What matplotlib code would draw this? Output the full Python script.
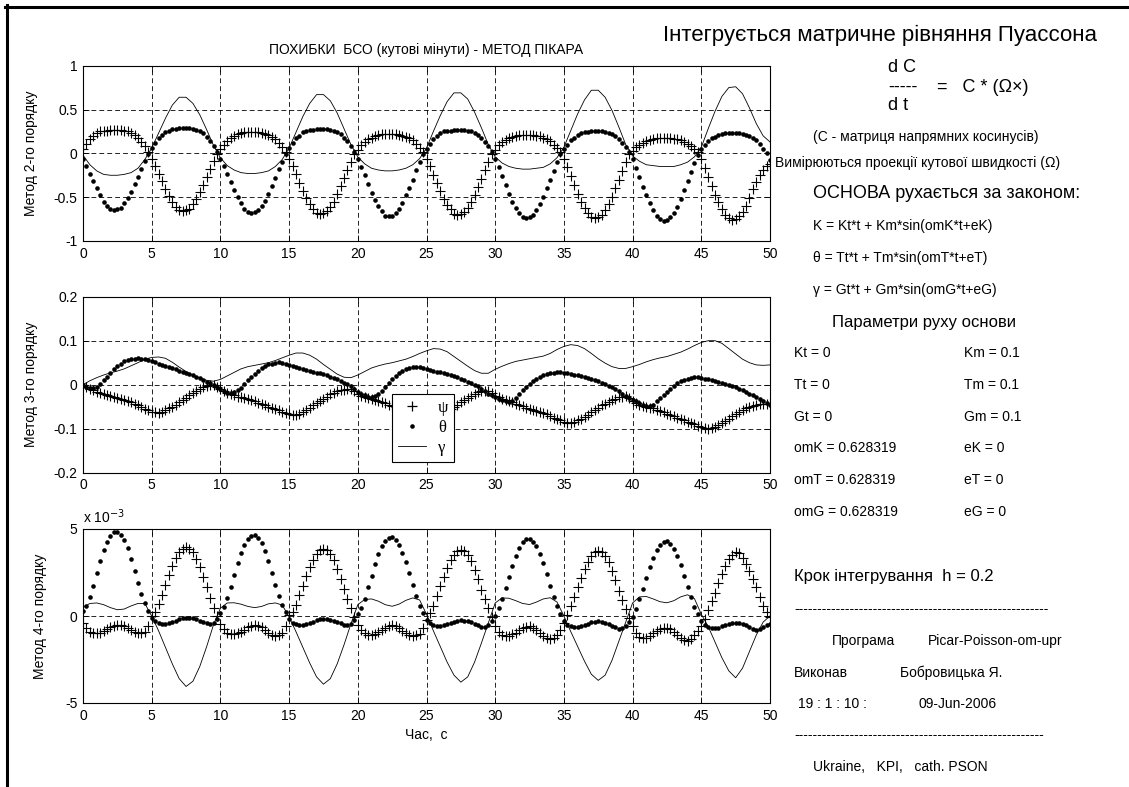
import numpy as np
import matplotlib.pyplot as plt
from matplotlib.lines import Line2D
from matplotlib.ticker import FuncFormatter

plt.rcParams['font.family'] = ['Liberation Sans', 'DejaVu Sans']
plt.rcParams['font.size'] = 10
plt.rcParams['lines.scale_dashes'] = False

# sample times, s: marker series every 0.25 s, gamma lines every 0.5 s
t_mark = np.linspace(0, 50, 201)
t_line = np.linspace(0, 50, 101)

# --- 2nd order method, angular minutes ---
psi2 = [0.05, 0.11, 0.16, 0.20, 0.23, 0.25, 0.26, 0.26, 0.27, 0.27, 0.27, 0.27, 0.26, 0.25, 0.23, 0.21, 0.18, 0.13, 0.08, 0.01,
        -0.06, -0.15, -0.23, -0.32, -0.41, -0.49, -0.55, -0.61, -0.65, -0.66, -0.65, -0.63, -0.58, -0.52, -0.44, -0.36, -0.27, -0.18, -0.09, -0.01,
        0.05, 0.10, 0.14, 0.18, 0.20, 0.22, 0.23, 0.24, 0.24, 0.24, 0.24, 0.24, 0.23, 0.22, 0.21, 0.19, 0.16, 0.12, 0.07, 0.01,
        -0.06, -0.15, -0.24, -0.34, -0.43, -0.51, -0.58, -0.63, -0.68, -0.69, -0.68, -0.66, -0.61, -0.55, -0.46, -0.37, -0.28, -0.19, -0.10, -0.01,
        0.04, 0.09, 0.13, 0.16, 0.18, 0.20, 0.21, 0.22, 0.22, 0.22, 0.22, 0.22, 0.21, 0.20, 0.19, 0.17, 0.15, 0.11, 0.06, 0.01,
        -0.06, -0.15, -0.25, -0.34, -0.43, -0.52, -0.59, -0.64, -0.69, -0.70, -0.69, -0.67, -0.62, -0.55, -0.47, -0.38, -0.29, -0.19, -0.10, -0.01,
        0.04, 0.09, 0.13, 0.15, 0.18, 0.19, 0.20, 0.21, 0.21, 0.21, 0.21, 0.21, 0.20, 0.20, 0.18, 0.16, 0.14, 0.10, 0.06, 0.01,
        -0.07, -0.16, -0.26, -0.36, -0.46, -0.55, -0.62, -0.68, -0.73, -0.74, -0.73, -0.70, -0.65, -0.58, -0.50, -0.40, -0.30, -0.20, -0.10, -0.01,
        0.03, 0.07, 0.10, 0.12, 0.14, 0.15, 0.16, 0.17, 0.17, 0.17, 0.17, 0.17, 0.16, 0.16, 0.15, 0.13, 0.11, 0.08, 0.05, 0.01,
        -0.07, -0.17, -0.27, -0.37, -0.47, -0.56, -0.64, -0.70, -0.74, -0.76, -0.75, -0.72, -0.67, -0.60, -0.51, -0.41, -0.33, -0.25, -0.19, -0.15,
        -0.12]
theta2 = [-0.06, -0.14, -0.23, -0.32, -0.40, -0.48, -0.55, -0.60, -0.64, -0.65, -0.64, -0.62, -0.57, -0.51, -0.44, -0.35, -0.27, -0.18, -0.09, -0.01,
          0.06, 0.12, 0.17, 0.21, 0.24, 0.26, 0.28, 0.28, 0.29, 0.29, 0.29, 0.29, 0.28, 0.27, 0.25, 0.23, 0.19, 0.14, 0.08, 0.01,
          -0.06, -0.15, -0.24, -0.33, -0.42, -0.50, -0.57, -0.63, -0.67, -0.68, -0.67, -0.65, -0.60, -0.54, -0.46, -0.37, -0.28, -0.18, -0.10, -0.01,
          0.06, 0.12, 0.17, 0.20, 0.24, 0.25, 0.27, 0.27, 0.28, 0.28, 0.28, 0.28, 0.27, 0.26, 0.24, 0.22, 0.18, 0.14, 0.08, 0.01,
          -0.06, -0.16, -0.25, -0.35, -0.45, -0.53, -0.60, -0.66, -0.71, -0.72, -0.71, -0.68, -0.63, -0.57, -0.48, -0.39, -0.30, -0.19, -0.10, -0.01,
          0.05, 0.11, 0.16, 0.20, 0.23, 0.25, 0.26, 0.26, 0.27, 0.27, 0.27, 0.27, 0.26, 0.25, 0.23, 0.21, 0.18, 0.13, 0.08, 0.01,
          -0.07, -0.16, -0.26, -0.36, -0.46, -0.55, -0.62, -0.68, -0.73, -0.74, -0.73, -0.70, -0.65, -0.58, -0.50, -0.40, -0.30, -0.20, -0.10, -0.01,
          0.05, 0.10, 0.15, 0.18, 0.21, 0.23, 0.24, 0.24, 0.25, 0.25, 0.25, 0.25, 0.24, 0.23, 0.22, 0.20, 0.16, 0.12, 0.07, 0.01,
          -0.07, -0.17, -0.27, -0.38, -0.48, -0.57, -0.65, -0.71, -0.75, -0.77, -0.76, -0.73, -0.68, -0.61, -0.52, -0.42, -0.32, -0.21, -0.11, -0.02,
          0.05, 0.10, 0.14, 0.17, 0.19, 0.21, 0.22, 0.23, 0.23, 0.23, 0.23, 0.23, 0.22, 0.21, 0.20, 0.18, 0.15, 0.11, 0.05, 0.00,
          -0.08]
gamma2 = [-0.02, -0.13, -0.20, -0.24, -0.25, -0.25, -0.24, -0.22, -0.17, -0.07,
          0.06, 0.23, 0.40, 0.55, 0.64, 0.64, 0.57, 0.44, 0.27, 0.09,
          -0.05, -0.14, -0.19, -0.22, -0.23, -0.23, -0.22, -0.20, -0.15, -0.07,
          0.06, 0.24, 0.42, 0.57, 0.67, 0.67, 0.60, 0.46, 0.28, 0.10,
          -0.04, -0.12, -0.17, -0.19, -0.20, -0.20, -0.19, -0.17, -0.13, -0.06,
          0.06, 0.25, 0.43, 0.59, 0.69, 0.69, 0.62, 0.47, 0.29, 0.10,
          -0.04, -0.11, -0.15, -0.17, -0.18, -0.18, -0.17, -0.16, -0.12, -0.05,
          0.07, 0.26, 0.45, 0.61, 0.72, 0.72, 0.64, 0.49, 0.30, 0.10,
          -0.03, -0.09, -0.13, -0.14, -0.15, -0.15, -0.15, -0.13, -0.10, -0.04,
          0.07, 0.28, 0.48, 0.65, 0.75, 0.76, 0.68, 0.52, 0.34, 0.20,
          0.13]

# --- 3rd order method ---
psi3 = [0.0, -0.006, -0.01, -0.013, -0.016, -0.019, -0.021, -0.024, -0.026, -0.028, -0.03, -0.033, -0.035, -0.037, -0.04, -0.043, -0.046, -0.05, -0.055, -0.058,
        -0.061, -0.063, -0.064, -0.062, -0.058, -0.054, -0.05, -0.045, -0.04, -0.035, -0.03, -0.024, -0.019, -0.014, -0.009, -0.005, -0.002, 0.0, 0.0, -0.005,
        -0.01, -0.015, -0.019, -0.022, -0.024, -0.027, -0.029, -0.031, -0.033, -0.035, -0.038, -0.041, -0.044, -0.047, -0.05, -0.053, -0.056, -0.058, -0.061, -0.064,
        -0.066, -0.068, -0.069, -0.066, -0.062, -0.057, -0.052, -0.047, -0.042, -0.037, -0.032, -0.027, -0.022, -0.018, -0.014, -0.012, -0.011, -0.01, -0.01, -0.015,
        -0.021, -0.025, -0.028, -0.03, -0.032, -0.034, -0.036, -0.039, -0.042, -0.045, -0.048, -0.051, -0.054, -0.057, -0.059, -0.062, -0.064, -0.067, -0.07, -0.073,
        -0.075, -0.077, -0.079, -0.076, -0.072, -0.067, -0.061, -0.055, -0.05, -0.045, -0.04, -0.035, -0.03, -0.025, -0.021, -0.017, -0.015, -0.014, -0.014, -0.019,
        -0.025, -0.029, -0.033, -0.035, -0.037, -0.04, -0.043, -0.046, -0.049, -0.052, -0.055, -0.058, -0.06, -0.062, -0.064, -0.067, -0.071, -0.075, -0.078, -0.081,
        -0.084, -0.086, -0.088, -0.085, -0.081, -0.077, -0.073, -0.068, -0.063, -0.057, -0.052, -0.047, -0.043, -0.039, -0.035, -0.032, -0.029, -0.027, -0.026, -0.031,
        -0.036, -0.041, -0.045, -0.048, -0.05, -0.052, -0.054, -0.057, -0.06, -0.063, -0.066, -0.069, -0.072, -0.075, -0.078, -0.081, -0.084, -0.087, -0.09, -0.093,
        -0.096, -0.098, -0.1, -0.098, -0.095, -0.091, -0.086, -0.082, -0.077, -0.072, -0.067, -0.062, -0.058, -0.054, -0.051, -0.048, -0.046, -0.044, -0.043, -0.043,
        -0.043]
theta3 = [0.0, -0.005, -0.007, -0.008, -0.006, 0.001, 0.01, 0.018, 0.027, 0.035, 0.042, 0.048, 0.053, 0.056, 0.058, 0.059, 0.06, 0.059, 0.058, 0.056,
          0.054, 0.051, 0.048, 0.045, 0.043, 0.04, 0.038, 0.035, 0.032, 0.03, 0.027, 0.024, 0.021, 0.018, 0.015, 0.011, 0.007, 0.004, 0.0, -0.005,
          -0.01, -0.014, -0.018, -0.019, -0.017, -0.013, -0.008, 0.001, 0.01, 0.018, 0.025, 0.032, 0.038, 0.042, 0.046, 0.048, 0.05, 0.051, 0.05, 0.048,
          0.045, 0.042, 0.04, 0.037, 0.035, 0.033, 0.031, 0.029, 0.027, 0.026, 0.024, 0.021, 0.018, 0.015, 0.012, 0.009, 0.005, 0.001, -0.003, -0.009,
          -0.016, -0.02, -0.024, -0.027, -0.028, -0.026, -0.022, -0.014, -0.005, 0.004, 0.013, 0.02, 0.026, 0.031, 0.035, 0.038, 0.04, 0.041, 0.04, 0.038,
          0.036, 0.034, 0.032, 0.03, 0.028, 0.026, 0.024, 0.022, 0.019, 0.017, 0.014, 0.011, 0.007, 0.004, 0.0, -0.004, -0.009, -0.014, -0.02, -0.024,
          -0.028, -0.032, -0.035, -0.038, -0.04, -0.037, -0.03, -0.021, -0.012, -0.005, 0.002, 0.008, 0.013, 0.017, 0.021, 0.024, 0.026, 0.027, 0.028, 0.028,
          0.027, 0.026, 0.024, 0.023, 0.021, 0.019, 0.017, 0.015, 0.013, 0.011, 0.008, 0.005, 0.002, -0.002, -0.006, -0.01, -0.015, -0.02, -0.025, -0.03,
          -0.034, -0.038, -0.042, -0.045, -0.048, -0.048, -0.045, -0.038, -0.03, -0.023, -0.016, -0.009, -0.003, 0.003, 0.008, 0.011, 0.013, 0.015, 0.017, 0.017,
          0.016, 0.014, 0.012, 0.01, 0.008, 0.006, 0.004, 0.002, -0.001, -0.003, -0.006, -0.009, -0.012, -0.016, -0.02, -0.024, -0.028, -0.033, -0.038, -0.042,
          -0.045]
gamma3 = [0.0, 0.009, 0.016, 0.022, 0.027, 0.031, 0.036, 0.043, 0.05, 0.058,
          0.062, 0.063, 0.06, 0.051, 0.04, 0.03, 0.021, 0.015, 0.01, 0.008,
          0.012, 0.02, 0.028, 0.036, 0.041, 0.044, 0.047, 0.05, 0.055, 0.061,
          0.067, 0.072, 0.072, 0.067, 0.058, 0.046, 0.035, 0.024, 0.017, 0.016,
          0.022, 0.03, 0.038, 0.043, 0.047, 0.05, 0.054, 0.058, 0.064, 0.071,
          0.077, 0.082, 0.081, 0.075, 0.064, 0.053, 0.042, 0.032, 0.026, 0.026,
          0.035, 0.042, 0.048, 0.053, 0.056, 0.059, 0.062, 0.065, 0.071, 0.08,
          0.087, 0.091, 0.089, 0.082, 0.071, 0.059, 0.049, 0.041, 0.037, 0.037,
          0.041, 0.046, 0.052, 0.057, 0.061, 0.064, 0.069, 0.074, 0.081, 0.089,
          0.096, 0.1, 0.1, 0.094, 0.082, 0.07, 0.058, 0.05, 0.045, 0.044,
          0.045]

# --- 4th order method, units of 1e-3 ---
psi4 = [-0.4, -0.7, -0.9, -0.98, -1.0, -0.95, -0.85, -0.75, -0.65, -0.57, -0.52, -0.53, -0.58, -0.68, -0.8, -0.92, -1.0, -1.0, -0.9, -0.55,
        0.0, 0.24, 0.68, 1.21, 1.78, 2.35, 2.88, 3.32, 3.66, 3.87, 3.95, 3.87, 3.66, 3.3, 2.8, 2.25, 1.65, 1.05, 0.45, 0.0,
        -0.45, -0.75, -0.95, -1.03, -1.05, -1.0, -0.9, -0.78, -0.65, -0.56, -0.52, -0.56, -0.65, -0.8, -0.95, -1.08, -1.15, -1.1, -0.95, -0.55,
        0.05, 0.25, 0.66, 1.19, 1.74, 2.3, 2.8, 3.23, 3.57, 3.77, 3.85, 3.77, 3.57, 3.2, 2.7, 2.15, 1.55, 1.0, 0.45, -0.05,
        -0.5, -0.82, -1.0, -1.08, -1.1, -1.03, -0.92, -0.8, -0.68, -0.58, -0.53, -0.59, -0.7, -0.85, -1.0, -1.1, -1.15, -1.12, -1.02, -0.7,
        -0.25, 0.15, 0.6, 1.15, 1.7, 2.27, 2.77, 3.19, 3.52, 3.72, 3.8, 3.72, 3.52, 3.15, 2.65, 2.1, 1.5, 0.95, 0.45, -0.05,
        -0.55, -0.9, -1.1, -1.16, -1.15, -1.06, -0.95, -0.82, -0.7, -0.62, -0.6, -0.68, -0.8, -0.97, -1.15, -1.27, -1.32, -1.25, -1.1, -0.8,
        -0.4, 0.05, 0.55, 1.1, 1.65, 2.2, 2.7, 3.12, 3.45, 3.65, 3.72, 3.65, 3.45, 3.08, 2.6, 2.05, 1.45, 0.9, 0.4, -0.1,
        -0.6, -1.0, -1.22, -1.27, -1.25, -1.13, -1.0, -0.87, -0.75, -0.69, -0.67, -0.76, -0.9, -1.07, -1.25, -1.37, -1.42, -1.32, -1.12, -0.88,
        -0.6, -0.15, 0.35, 0.85, 1.35, 1.9, 2.4, 2.88, 3.25, 3.52, 3.68, 3.6, 3.35, 3.0, 2.6, 2.15, 1.66, 1.12, 0.6, 0.25,
        -0.05]
theta4 = [0.3, 0.6, 1.1, 1.75, 2.47, 3.15, 3.78, 4.27, 4.61, 4.8, 4.85, 4.66, 4.35, 3.88, 3.28, 2.6, 1.9, 1.25, 0.75, 0.3,
          -0.1, -0.3, -0.38, -0.44, -0.46, -0.43, -0.36, -0.28, -0.2, -0.13, -0.1, -0.11, -0.14, -0.2, -0.27, -0.35, -0.42, -0.44, -0.38, -0.2,
          0.15, 0.5, 1.02, 1.67, 2.37, 3.02, 3.63, 4.09, 4.42, 4.6, 4.65, 4.46, 4.17, 3.72, 3.15, 2.5, 1.81, 1.16, 0.65, 0.25,
          -0.2, -0.38, -0.45, -0.49, -0.5, -0.46, -0.4, -0.32, -0.25, -0.2, -0.17, -0.18, -0.21, -0.27, -0.35, -0.43, -0.5, -0.51, -0.45, -0.25,
          0.1, 0.46, 1.0, 1.64, 2.32, 2.96, 3.55, 4.0, 4.32, 4.5, 4.55, 4.37, 4.1, 3.64, 3.09, 2.46, 1.77, 1.14, 0.6, 0.2,
          -0.25, -0.42, -0.5, -0.55, -0.57, -0.53, -0.47, -0.39, -0.32, -0.27, -0.25, -0.26, -0.29, -0.35, -0.44, -0.54, -0.62, -0.62, -0.52, -0.3,
          0.0, 0.45, 0.98, 1.6, 2.27, 2.89, 3.47, 3.92, 4.23, 4.41, 4.45, 4.27, 4.01, 3.56, 3.03, 2.4, 1.74, 1.11, 0.55, 0.1,
          -0.3, -0.5, -0.58, -0.61, -0.62, -0.58, -0.52, -0.44, -0.36, -0.32, -0.3, -0.33, -0.38, -0.46, -0.56, -0.66, -0.72, -0.7, -0.6, -0.35,
          -0.05, 0.43, 0.95, 1.55, 2.19, 2.8, 3.35, 3.78, 4.09, 4.26, 4.3, 4.13, 3.87, 3.44, 2.92, 2.32, 1.68, 1.08, 0.5, 0.1,
          -0.3, -0.52, -0.63, -0.68, -0.7, -0.67, -0.6, -0.52, -0.45, -0.4, -0.38, -0.4, -0.45, -0.53, -0.62, -0.72, -0.8, -0.77, -0.65, -0.53,
          -0.45]
gamma4 = [0.5, 0.72, 0.75, 0.65, 0.48, 0.36, 0.4, 0.58, 0.72, 0.72,
          0.0, -0.85, -1.8, -2.75, -3.6, -4.05, -3.75, -2.9, -1.76, -0.5,
          0.45, 0.75, 0.76, 0.68, 0.55, 0.48, 0.55, 0.7, 0.75, 0.63,
          -0.05, -0.9, -1.8, -2.7, -3.5, -3.92, -3.6, -2.75, -1.65, -0.45,
          0.65, 0.95, 0.98, 0.85, 0.65, 0.56, 0.68, 0.9, 1.04, 0.92,
          0.1, -0.85, -1.75, -2.65, -3.4, -3.8, -3.5, -2.65, -1.55, -0.4,
          0.75, 1.04, 1.02, 0.88, 0.72, 0.66, 0.8, 0.98, 1.05, 0.8,
          0.0, -0.9, -1.75, -2.6, -3.35, -3.7, -3.4, -2.55, -1.45, -0.35,
          0.75, 1.1, 1.12, 0.98, 0.82, 0.76, 0.88, 1.1, 1.22, 1.0,
          0.1, -0.6, -1.5, -2.4, -3.15, -3.55, -3.0, -2.05, -1.1, -0.35,
          0.0]

xticks = list(range(0, 51, 5))
yticks2 = [-1, -0.5, 0, 0.5, 1]
yticks3 = [-0.2, -0.1, 0, 0.1, 0.2]
yticks4 = [-5e-3, 0, 5e-3]
ylabels = ['Метод 2-го порядку', 'Метод 3-го порядку', 'Метод 4-го порядку']

W, H = 1129.0, 787.0
fig = plt.figure(figsize=(W / 100, H / 100), dpi=100)


def add_panel(top, bottom):
    return fig.add_axes([83 / W, 1 - bottom / H, 687 / W, (bottom - top) / H])


def draw(ax, psi, theta, gamma, yticks, ylab, labx):
    ax.plot(t_mark, psi, ls='none', marker='+', ms=6.5, mew=0.8, color='k')
    ax.plot(t_mark, theta, ls='none', marker='o', ms=3.3, mew=0, color='k')
    ax.plot(t_line, gamma, ls='-', lw=0.6, color='k')
    ax.set_xlim(0, 50)
    ax.set_ylim(yticks[0], yticks[-1])
    ax.set_xticks(xticks)
    ax.set_yticks(yticks)
    ax.grid(True, ls=(0, (3.5, 2.2)), color='k', lw=0.6)
    ax.set_axisbelow(True)
    ax.tick_params(direction='in', length=4, width=0.6, top=True, right=True,
                   labelsize=10, pad=4)
    for s in ax.spines.values():
        s.set_linewidth(0.8)
    ax.set_ylabel(ylab, fontsize=10)
    ax.yaxis.set_label_coords(labx, 0.5)


fmt = FuncFormatter(lambda v, p: f'{round(v, 6):g}')

ax1 = add_panel(65.7, 241)
draw(ax1, psi2, theta2, gamma2, yticks2, ylabels[0], -0.066)
ax1.xaxis.set_major_formatter(fmt)
ax1.yaxis.set_major_formatter(fmt)
ax1.text(0.5, 1.09, 'ПОХИБКИ  БСО (кутові мінути) - МЕТОД ПІКАРА',
         transform=ax1.transAxes, ha='center', va='center', fontsize=10)

ax2 = add_panel(296.7, 472.7)
draw(ax2, psi3, theta3, gamma3, yticks3, ylabels[1], -0.066)
ax2.xaxis.set_major_formatter(fmt)
ax2.yaxis.set_major_formatter(fmt)
handles = [Line2D([], [], ls='none', marker='+', ms=7, mew=0.9, color='k'),
           Line2D([], [], ls='none', marker='o', ms=3.3, mew=0, color='k'),
           Line2D([], [], lw=0.6, color='k')]
leg = ax2.legend(handles, ['ψ', 'θ', 'γ'], loc='lower left',
                 bbox_to_anchor=(0.45, 0.061), borderaxespad=0,
                 prop={'family': 'Liberation Serif', 'size': 12},
                 fancybox=False, edgecolor='k', framealpha=1,
                 borderpad=0.35, labelspacing=0.25, handlelength=1.7,
                 handletextpad=0.7)
leg.get_frame().set_linewidth(0.8)

ax3 = add_panel(529, 703)
draw(ax3, np.array(psi4) * 1e-3, np.array(theta4) * 1e-3,
     np.array(gamma4) * 1e-3, yticks4, ylabels[2], -0.052)
ax3.xaxis.set_major_formatter(fmt)
ax3.yaxis.set_major_formatter(FuncFormatter(lambda v, p: f'{round(v * 1e3, 6):g}'))
ax3.text(0.0, 1.07, r'x 10$^{-3}$', transform=ax3.transAxes,
         ha='left', va='center', fontsize=10)
ax3.set_xlabel('Час,  с', fontsize=10, labelpad=4)


def ftext(x, y, s, size=10, **kw):
    fig.text(x / W, 1 - y / H, s, fontsize=size, ha='left', va='center', **kw)


ftext(663, 35, 'Інтегрується матричне рівняння Пуассона', 16)
ftext(888, 67, 'd C', 13)
ftext(888, 87, '-----', 13)
ftext(888, 106, 'd t', 13)
ftext(937, 87, '=   C * (Ω×)', 13)
ftext(813, 137, '(С - матриця напрямних косинусів)')
ftext(775, 163, 'Вимірюються проекції кутової швидкості (Ω)')
ftext(813, 194, 'ОСНОВА рухається за законом:', 13)
ftext(813, 226, 'K = Kt*t + Km*sin(omK*t+eK)')
ftext(813, 258, 'θ = Tt*t + Tm*sin(omT*t+eT)')
ftext(813, 290, 'γ = Gt*t + Gm*sin(omG*t+eG)')
ftext(832, 322, 'Параметри руху основи', 12)

params_left = ['Kt = 0', 'Tt = 0', 'Gt = 0',
               'omK = 0.628319', 'omT = 0.628319', 'omG = 0.628319']
params_right = ['Km = 0.1', 'Tm = 0.1', 'Gm = 0.1', 'eK = 0', 'eT = 0', 'eG = 0']
for i, (a, b) in enumerate(zip(params_left, params_right)):
    y = 353 + i * 31.8
    ftext(794, y, a)
    ftext(964, y, b)

ftext(794, 577, 'Крок інтегрування  h = 0.2', 12)
ftext(794, 609, '-' * 55)
ftext(832, 641, 'Програма')
ftext(928, 641, 'Picar-Poisson-om-upr')
ftext(794, 673, 'Виконав')
ftext(900, 673, 'Бобровицька Я.')
ftext(798, 704, '19 : 1 : 10 :')
ftext(919, 704, '09-Jun-2006')
ftext(794, 735, '-' * 54)
ftext(813, 767, 'Ukraine,   KPI,   cath. PSON')

# window frame edges
fig.add_artist(Line2D([6.5 / W, 6.5 / W], [0, 1 - 5 / H], color='k', lw=2.2,
                      transform=fig.transFigure))
fig.add_artist(Line2D([5 / W, 1], [1 - 6.5 / H, 1 - 6.5 / H], color='k', lw=2.2,
                      transform=fig.transFigure))

fig.savefig('out.png', dpi=100)
